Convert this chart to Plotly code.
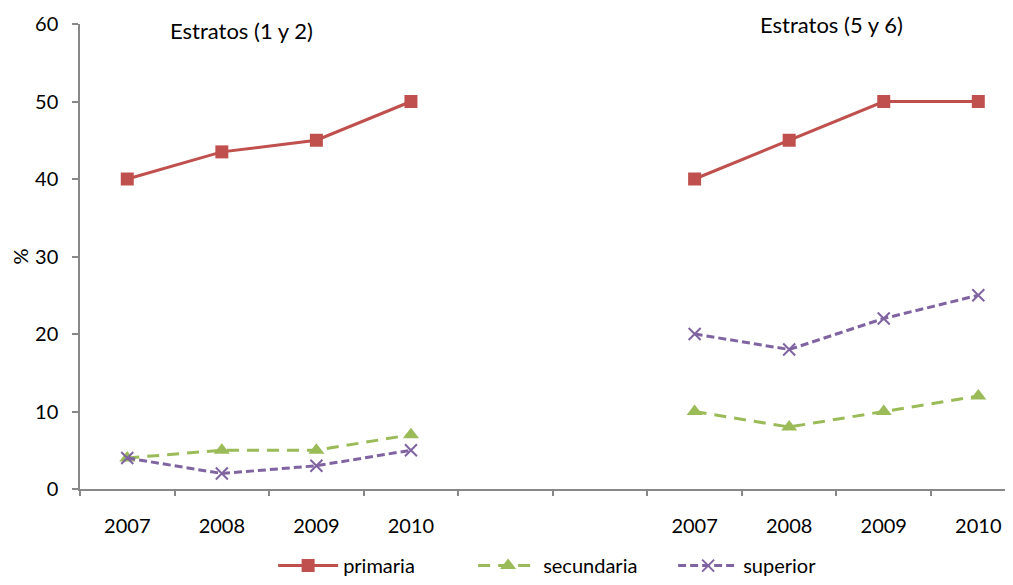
import plotly.graph_objects as go

years = ["2007", "2008", "2009", "2010"]
left_pos = [0, 1, 2, 3]
right_pos = [6, 7, 8, 9]
groups = ["Estratos (1 y 2)", "Estratos (5 y 6)"]

primaria_12 = [40, 43.5, 45, 50]
secundaria_12 = [4, 5, 5, 7]
superior_12 = [4, 2, 3, 5]
primaria_56 = [40, 45, 50, 50]
secundaria_56 = [10, 8, 10, 12]
superior_56 = [20, 18, 22, 25]

FONT = "Lato"
FS = 20
series = [
    ("primaria", primaria_12, primaria_56, "#C0504D", "solid", "square", 13, 0),
    ("secundaria", secundaria_12, secundaria_56, "#9BBB59", "12px,8px", "triangle-up", 14, 0),
    ("superior", superior_12, superior_56, "#8064A2", "8px,4px", "x-thin", 12, 2),
]

fig = go.Figure()
for name, lv, rv, col, dash, sym, size, mlw in series:
    for i, (xs, ys) in enumerate([(left_pos, lv), (right_pos, rv)]):
        fig.add_trace(go.Scatter(
            x=xs, y=ys, mode="lines+markers", name=name, legendgroup=name,
            showlegend=(i == 0),
            line=dict(color=col, width=3, dash=dash),
            marker=dict(symbol=sym, size=size, color=col,
                        line=dict(color=col, width=mlw)),
        ))

tickvals = left_pos + right_pos
ticktext = years + years
boundaries = [b - 0.5 for b in range(0, 11)]
XR = [-0.5, 9.367]

fig.update_layout(
    width=1005, height=569,
    margin=dict(l=72, r=0, t=16, b=88),
    plot_bgcolor="white", paper_bgcolor="white",
    font=dict(family=FONT, size=FS, color="black"),
    xaxis=dict(range=XR, tickvals=tickvals, ticktext=ticktext,
               ticks="", showgrid=False, zeroline=False, showline=True,
               linecolor="#888888", linewidth=1.5, automargin=False,
               ticklabelstandoff=18, tickfont=dict(size=FS)),
    xaxis2=dict(range=XR, overlaying="x", side="bottom",
                tickvals=boundaries, showticklabels=False, ticks="outside",
                ticklen=6, tickcolor="#888888", tickwidth=1.5, automargin=False,
                showgrid=False, zeroline=False, showline=False),
    yaxis=dict(range=[0, 60], dtick=10, ticks="outside", ticklen=6,
               tickcolor="#888888", tickwidth=1.5, showgrid=False,
               zeroline=False, showline=True, linecolor="#888888", linewidth=1.5,
               tickfont=dict(size=FS), automargin=False, ticklabelstandoff=10,
               title=dict(text="%", standoff=6, font=dict(size=FS))),
    legend=dict(orientation="h", x=0.207, xanchor="left",
                yref="container", y=0.02, yanchor="middle",
                font=dict(size=FS), itemwidth=60,
                entrywidth=125, tracegroupgap=0),
    showlegend=True,
)
fig.add_trace(go.Scatter(x=[0], y=[0], xaxis="x2", mode="markers",
                         marker=dict(opacity=0), showlegend=False,
                         hoverinfo="skip"))

fig.add_annotation(text=groups[0], x=1.208, y=59.2, xref="x", yref="y",
                   showarrow=False, font=dict(size=22), yanchor="middle")
fig.add_annotation(text=groups[1], x=7.447, y=59.9, xref="x", yref="y",
                   showarrow=False, font=dict(size=22), yanchor="middle")

fig.write_html("out.html")
